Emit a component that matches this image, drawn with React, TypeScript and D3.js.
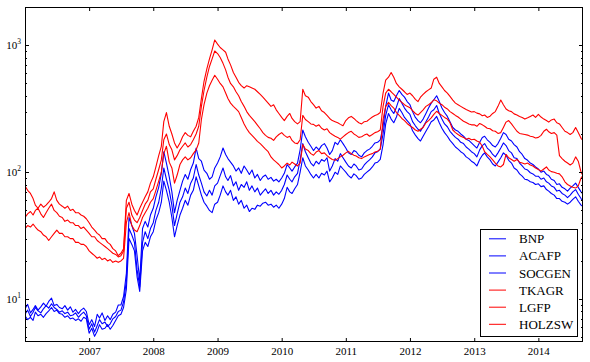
import React, { useEffect, useRef } from 'react';
import * as d3 from 'd3';

// CDS spreads (bp), twice a month (1st and 16th), Jan 2006 .. Sep 2014
const names = ['BNP', 'ACAFP', 'SOCGEN', 'TKAGR', 'LGFP', 'HOLZSW'];
const colors = ['#0000ff', '#0000ff', '#0000ff', '#ff0000', '#ff0000', '#ff0000'];

const bnp = [
  8.4, 9.1, 7.8, 8.3, 8.9, 8.2, 8.7, 9.3, 8.8, 9.6, 10.2, 8.9, 9.1, 8.6, 8.4, 8.9, 8.2, 8.7, 7.9, 8.3, 7.7, 8.2, 8.5, 8.0,
  6.3, 6.9, 6.1, 7.6, 7.1, 7.8, 6.8, 7.4, 6.9, 7.6, 7.9, 9.0, 9.0, 10.5, 16, 44, 38, 33, 22, 14, 36, 41, 37, 46,
  52, 64, 76, 98, 145, 118, 92, 70, 48, 60, 72, 85, 96, 88, 105, 118, 155, 128, 122, 104, 98, 88, 92, 108,
  118, 132, 155, 138, 128, 120, 112, 102, 108, 98, 112, 104, 96, 104, 90, 96, 86, 92, 95, 88, 91, 85, 88, 84,
  90, 98, 115, 108, 102, 110, 118, 150, 215, 190, 172, 160, 148, 158, 150, 162, 168, 155, 138, 148, 172, 165, 180, 168,
  155, 142, 138, 148, 145, 136, 132, 142, 148, 152, 160, 170, 172, 180, 230, 330, 420, 370, 360, 400, 440, 410, 390, 360,
  340, 300, 270, 255, 245, 262, 290, 320, 350, 372, 400, 360, 320, 295, 275, 250, 225, 215, 210, 200, 192, 182, 178, 170,
  162, 155, 172, 188, 192, 180, 172, 162, 158, 168, 185, 205, 198, 182, 176, 165, 158, 145, 138, 128, 124, 118, 115, 110,
  106, 100, 102, 96, 94, 88, 86, 80, 81, 76, 74, 71, 75, 78, 82, 76, 70, 66,
];
const acafp = [
  7.6, 8.2, 7.3, 7.9, 8.6, 8.1, 7.8, 8.4, 8.9, 8.5, 9.2, 8.6, 8.3, 7.9, 8.1, 7.7, 7.9, 7.4, 7.5, 7.8, 7.2, 7.6, 7.9, 7.4,
  5.8, 6.4, 5.5, 6.2, 6.9, 6.4, 6.6, 6.1, 6.4, 7.0, 7.3, 8.0, 8.2, 9.5, 14, 36, 32, 28, 17, 12.5, 28, 34, 30, 36,
  40, 50, 58, 75, 108, 88, 72, 55, 38, 47, 58, 64, 75, 68, 82, 90, 115, 95, 82, 70, 65, 72, 66, 78,
  82, 94, 108, 92, 86, 94, 78, 84, 72, 80, 76, 84, 72, 78, 70, 75, 66, 70, 74, 68, 72, 66, 70, 67,
  72, 80, 95, 88, 84, 92, 98, 125, 168, 145, 130, 118, 112, 122, 116, 126, 122, 130, 102, 112, 128, 122, 140, 130,
  120, 112, 108, 116, 112, 104, 106, 114, 120, 125, 132, 142, 145, 152, 200, 280, 340, 310, 290, 325, 380, 350, 320, 300,
  285, 250, 232, 218, 210, 228, 250, 272, 300, 310, 335, 290, 262, 240, 228, 210, 198, 188, 182, 172, 168, 158, 152, 145,
  140, 132, 150, 162, 168, 155, 148, 138, 132, 142, 155, 170, 162, 148, 142, 130, 128, 118, 112, 106, 104, 99, 97, 93,
  93, 88, 90, 84, 82, 78, 76, 71, 72, 68, 66, 63, 66, 70, 73, 67, 62, 58,
];
const socgen = [
  7.4, 6.9, 7.2, 6.8, 7.9, 7.4, 7.6, 7.2, 7.7, 8.1, 8.6, 8.0, 8.2, 7.7, 7.6, 7.2, 7.4, 7.0, 7.1, 6.8, 7.0, 6.7, 7.2, 7.0,
  5.4, 5.9, 5.1, 5.6, 6.3, 5.8, 5.9, 6.3, 5.8, 6.2, 6.8, 7.4, 7.6, 8.6, 12, 30, 27, 24, 15, 11.5, 24, 28, 26, 31,
  34, 42, 48, 58, 85, 72, 58, 44, 31, 38, 46, 52, 60, 55, 66, 72, 92, 78, 66, 58, 54, 50, 48, 56,
  58, 66, 78, 70, 66, 72, 60, 64, 56, 60, 52, 55, 49, 52, 51, 55, 54, 57, 58, 55, 56, 53, 55, 52,
  56, 62, 76, 70, 68, 74, 80, 100, 130, 112, 104, 96, 90, 96, 90, 98, 95, 102, 84, 90, 100, 96, 112, 106,
  100, 94, 90, 97, 94, 88, 90, 96, 100, 104, 110, 118, 120, 126, 165, 240, 290, 262, 245, 272, 318, 295, 270, 255,
  240, 212, 196, 184, 176, 192, 210, 228, 250, 258, 275, 245, 222, 205, 192, 178, 168, 158, 152, 145, 140, 132, 128, 122,
  118, 112, 126, 136, 142, 132, 125, 116, 112, 120, 130, 142, 136, 124, 118, 108, 104, 97, 93, 88, 87, 84, 83, 80,
  81, 77, 78, 73, 71, 68, 66, 62, 62, 59, 58, 56, 58, 61, 64, 59, 55, 53,
];
const tkagr = [
  78, 72, 68, 62, 55, 52, 56, 53, 55, 58, 62, 70, 60, 56, 54, 52, 54, 50, 51, 48, 48, 46, 45, 43,
  40, 37, 35, 33, 32, 30, 30, 28, 27, 25, 24, 22, 23, 25, 60, 68, 56, 50, 46, 52, 58, 64, 70, 82,
  92, 110, 135, 160, 250, 295, 230, 200, 170, 155, 170, 190, 205, 195, 190, 210, 230, 270, 380, 520, 650, 780, 920, 1100,
  1020, 960, 920, 880, 780, 700, 610, 560, 510, 480, 460, 480, 470, 460, 450, 430, 410, 390, 370, 350, 330, 340, 310, 290,
  270, 255, 275, 290, 265, 250, 240, 250, 450, 400, 390, 360, 340, 320, 330, 305, 295, 280, 265, 255, 250, 245, 238, 232,
  255, 268, 275, 265, 255, 245, 240, 250, 252, 262, 272, 280, 285, 295, 420, 530, 560, 610, 560, 500, 470, 450, 430, 410,
  420, 400, 375, 360, 390, 410, 430, 445, 460, 540, 560, 500, 470, 440, 420, 395, 370, 350, 340, 330, 320, 312, 305, 298,
  300, 292, 288, 278, 282, 270, 276, 290, 300, 330, 370, 340, 315, 305, 300, 288, 282, 275, 270, 262, 268, 275, 282, 270,
  285, 272, 262, 255, 248, 258, 262, 245, 240, 225, 210, 205, 198, 205, 225, 205, 185, 175,
];
const lgfp = [
  44, 47, 49, 46, 50, 52, 47, 44, 48, 52, 56, 50, 48, 45, 44, 41, 42, 40, 40, 38, 38, 36, 37, 35,
  33, 31, 31, 29, 28, 27, 26, 25, 24, 23, 22.5, 21.5, 22, 24, 52, 58, 46, 42, 40, 44, 50, 56, 60, 70,
  74, 88, 105, 125, 180, 200, 165, 150, 125, 135, 150, 160, 170, 158, 165, 180, 200, 230, 330, 440, 560, 680, 780, 900,
  860, 800, 720, 640, 560, 500, 470, 430, 400, 360, 330, 300, 280, 265, 250, 235, 220, 205, 195, 188, 185, 178, 190, 198,
  205, 195, 188, 192, 178, 170, 168, 180, 280, 260, 250, 240, 238, 230, 236, 222, 215, 220, 205, 198, 192, 188, 182, 190,
  198, 205, 210, 200, 195, 188, 190, 196, 200, 192, 198, 205, 208, 215, 330, 420, 450, 430, 410, 390, 370, 355, 340, 330,
  322, 305, 290, 282, 295, 310, 330, 340, 352, 372, 365, 350, 340, 325, 315, 300, 290, 280, 272, 262, 252, 246, 240, 236,
  236, 230, 242, 236, 230, 222, 220, 212, 210, 202, 205, 225, 248, 255, 240, 225, 210, 202, 200, 198, 196, 192, 190, 186,
  188, 195, 210, 218, 208, 202, 205, 196, 135, 128, 122, 118, 114, 118, 132, 122, 100, 92,
];
const holzsw = [
  36, 38, 37, 39, 37, 35, 34, 32, 31, 29, 31, 33, 35, 33, 33, 31, 31, 30, 30, 28, 28, 27, 27, 26,
  24, 23, 22, 21, 21.5, 20.5, 21, 20, 20.5, 19.5, 20, 19.5, 20, 21, 40, 48, 38, 35, 34, 38, 44, 48, 52, 58,
  62, 72, 85, 100, 140, 160, 120, 108, 82, 95, 115, 125, 132, 125, 130, 140, 150, 170, 260, 340, 420, 480, 530, 580,
  540, 500, 470, 420, 380, 350, 330, 315, 300, 270, 240, 220, 205, 195, 185, 175, 168, 160, 152, 145, 132, 125, 120, 115,
  108, 112, 118, 114, 120, 116, 112, 118, 165, 152, 148, 140, 136, 144, 148, 140, 142, 135, 130, 126, 124, 128, 132, 136,
  142, 146, 140, 136, 134, 130, 128, 132, 135, 138, 140, 144, 146, 152, 260, 330, 355, 335, 320, 295, 280, 265, 255, 242,
  232, 225, 215, 210, 218, 225, 245, 255, 268, 285, 302, 290, 280, 270, 262, 245, 215, 205, 198, 192, 188, 182, 185, 180,
  182, 176, 172, 160, 145, 138, 132, 125, 118, 112, 110, 115, 138, 130, 126, 122, 126, 120, 118, 116, 118, 114, 112, 108,
  105, 102, 106, 110, 104, 101, 100, 98, 97, 92, 84, 80, 78, 76, 75, 78, 90, 96,
];
const series = [bnp, acafp, socgen, tkagr, lgfp, holzsw];

const xTickYears = [2007, 2008, 2009, 2010, 2011, 2012, 2013, 2014];
const yMajor = [10, 100, 1000];
const yMinor = [5, 6, 7, 8, 9, 20, 30, 40, 50, 60, 70, 80, 90, 200, 300, 400, 500, 600, 700, 800, 900];

const font = "'Liberation Serif', 'DejaVu Serif', serif";

export default function App() {
  const svgRef = useRef<SVGSVGElement>(null);

  useEffect(() => {
    const svg = d3.select(svgRef.current);
    svg.selectAll('*').remove();

    const left = 25, right = 583, top = 7, bottom = 342;
    const months = d3.timeMonth.range(new Date(2006, 0, 1), new Date(2014, 9, 1));
    const dates = months.flatMap(d => [d, new Date(d.getFullYear(), d.getMonth(), 16)]);

    const x = d3.scaleTime()
      .domain([new Date(2006, 0, 1), new Date(2014, 8, 12)])
      .range([left, right]);
    const y = d3.scaleLog().domain([4.6, 2000]).range([bottom, top]);

    svg.append('clipPath').attr('id', 'plot')
      .append('rect')
      .attr('x', left).attr('y', top)
      .attr('width', right - left).attr('height', bottom - top);

    const line = d3.line<number>()
      .x((d, i) => x(dates[i]))
      .y(d => y(d));

    svg.append('g')
      .attr('clip-path', 'url(#plot)')
      .selectAll('path')
      .data(series)
      .join('path')
      .attr('d', d => line(d))
      .attr('fill', 'none')
      .attr('stroke', (d, i) => colors[i])
      .attr('stroke-width', 1.1)
      .attr('stroke-linejoin', 'round');

    // frame
    svg.append('rect')
      .attr('x', left + 0.5).attr('y', top + 0.5)
      .attr('width', right - left - 1).attr('height', bottom - top - 1)
      .attr('fill', 'none').attr('stroke', 'black').attr('stroke-width', 1);

    const xTicks = xTickYears.map(yr => new Date(yr, 0, 1));

    const xb = svg.append('g')
      .attr('transform', `translate(0,${bottom})`)
      .call(d3.axisBottom(x).tickValues(xTicks).tickSizeInner(-4).tickSizeOuter(0)
        .tickPadding(5).tickFormat(d => d3.timeFormat('%Y')(d as Date)));
    xb.select('.domain').remove();
    xb.attr('font-family', null).attr('font-size', 11);

    const xt = svg.append('g')
      .attr('transform', `translate(0,${top})`)
      .call(d3.axisTop(x).tickValues(xTicks).tickSizeInner(-4).tickSizeOuter(0).tickFormat(() => ''));
    xt.select('.domain').remove();

    // y ticks on both sides, inward
    const yt = svg.append('g').attr('stroke', 'black').attr('stroke-width', 1);
    yMajor.forEach(v => {
      const yy = Math.round(y(v)) + 0.5;
      yt.append('line').attr('x1', left).attr('x2', left + 4).attr('y1', yy).attr('y2', yy);
      yt.append('line').attr('x1', right).attr('x2', right - 4).attr('y1', yy).attr('y2', yy);
    });
    yMinor.forEach(v => {
      const yy = Math.round(y(v)) + 0.5;
      yt.append('line').attr('x1', left).attr('x2', left + 2).attr('y1', yy).attr('y2', yy);
      yt.append('line').attr('x1', right).attr('x2', right - 2).attr('y1', yy).attr('y2', yy);
    });

    const yl = svg.append('g').attr('fill', 'black');
    yMajor.forEach(v => {
      const t = yl.append('text')
        .attr('x', 21).attr('y', y(v) + 3.5)
        .attr('text-anchor', 'end')
        .attr('font-size', 11)
        .text('10');
      t.append('tspan')
        .attr('dy', -5)
        .attr('font-size', 7.5)
        .text(String(Math.round(Math.log10(v))));
    });

    // legend
    const lg = svg.append('g');
    lg.append('rect')
      .attr('x', 480.5).attr('y', 229.5).attr('width', 97).attr('height', 107)
      .attr('fill', 'white').attr('stroke', 'black').attr('stroke-width', 1);
    names.forEach((n, i) => {
      const ry = 238.8 + i * 17.1;
      lg.append('line')
        .attr('x1', 489).attr('x2', 506).attr('y1', ry).attr('y2', ry)
        .attr('stroke', colors[i]).attr('stroke-width', 1);
      lg.append('text')
        .attr('x', 519).attr('y', ry + 4.5)
        .attr('font-size', 13)
        .text(n);
    });
  }, []);

  return (
    <svg
      ref={svgRef}
      width={590}
      height={362}
      style={{ position: 'absolute', left: 0, top: 0, background: 'white', fontFamily: font }}
    />
  );
}
